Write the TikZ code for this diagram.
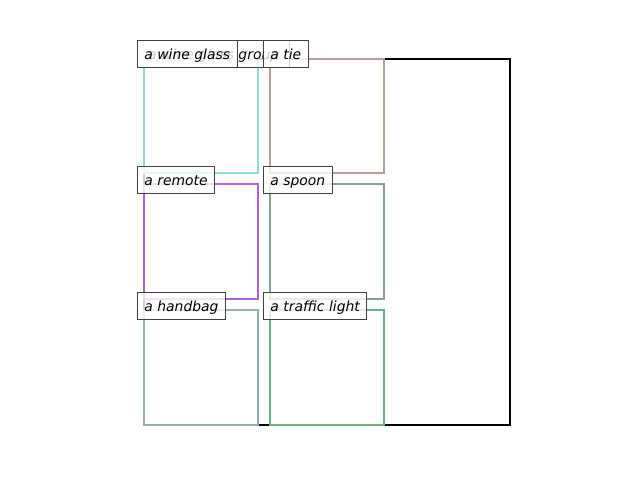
\documentclass[tikz,border=0pt]{standalone}
\usepackage{fontspec}
\newfontfamily\lblfont{DejaVu Sans}
\definecolor{glasscol}{RGB}{150,216,216}
\definecolor{tiecol}{RGB}{190,155,150}
\definecolor{remotecol}{RGB}{168,102,212}
\definecolor{spooncol}{RGB}{128,160,146}
\definecolor{bagcol}{RGB}{150,178,164}
\definecolor{lightcol}{RGB}{110,176,132}
\begin{document}
\begin{tikzpicture}[x=0.025cm,y=-0.025cm]
	\tikzstyle{every node}=[font=\lblfont\itshape\fontsize{9.9}{11}\selectfont]
	\tikzstyle{lbl}=[draw=black!75,line width=0.7pt,fill=white,fill opacity=0.8,text opacity=1,
		anchor=west,inner xsep=4.9pt,minimum height=19.8pt,text height=8.8pt,text depth=1.0pt]
	\tikzstyle{bbox}=[line width=1.7pt]
	\useasboundingbox (0,0) rectangle (640,480);
	\draw [bbox,black] (144,59) rectangle (510,425);
	\draw [bbox,glasscol] (144,59) rectangle (258,173);
	\draw [bbox,tiecol] (270,59) rectangle (384,173);
	\draw [bbox,remotecol] (144,184) rectangle (258,299);
	\draw [bbox,spooncol] (270,184) rectangle (384,299);
	\draw [bbox,bagcol] (144,310) rectangle (258,425);
	\draw [bbox,lightcol] (270,310) rectangle (384,425);
	
	\node [lbl,minimum width=108.4pt] (group) at (137,54) {a wine glass group};
	\node [lbl] (glass) at (137,54) {a wine glass};
	\node [lbl] (tie) at (263,54) {a tie};
	\node [lbl] (remote) at (137,180) {a remote};
	\node [lbl] (spoon) at (263,180) {a spoon};
	\node [lbl] (bag) at (137,306) {a handbag};
	\node [lbl] (light) at (263,306) {a traffic light};
\end{tikzpicture}
\end{document}
